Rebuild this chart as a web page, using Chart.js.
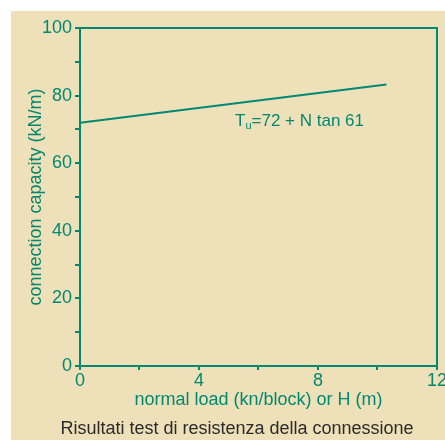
<!DOCTYPE html>
<html>
<head>
<meta charset="utf-8">
<script src="https://cdn.jsdelivr.net/npm/chart.js@4"></script>
<style>
  html, body { margin: 0; padding: 0; background: #ffffff; overflow: hidden; }
  #panel { position: absolute; left: 11px; top: 11px; width: 445px; height: 429px; background: #eee0b9; }
  #box { position: absolute; left: 0; top: 0; width: 436px; height: 429px; }
</style>
</head>
<body>
<div id="panel"><div id="box"><canvas id="grafico"></canvas></div></div>
<script>
// valori
const caricoNormale = [0, 10.3];
const capacita = [72, 83.3];
const ticksX = [0, 4, 8, 12];
const ticksY = [0, 20, 40, 60, 80, 100];

const verde = '#00896f';
const fonte = '"Liberation Sans", Arial, sans-serif';

// cornice del grafico + formula
const extra = {
  id: 'extra',
  afterDraw(chart) {
    const c = chart.ctx;
    const a = chart.chartArea;
    c.save();
    c.strokeStyle = verde;
    c.lineWidth = 2;
    c.strokeRect(a.left, a.top, a.right - a.left, a.bottom - a.top);
    const x = chart.scales.x.getPixelForValue(5.21);
    const y = chart.scales.y.getPixelForValue(71.0);
    c.fillStyle = verde;
    c.textBaseline = 'alphabetic';
    c.font = '17px ' + fonte;
    c.fillText('T', x, y);
    let w = c.measureText('T').width;
    c.font = '11px ' + fonte;
    c.fillText('u', x + w, y + 2.5);
    w += c.measureText('u').width;
    c.font = '17px ' + fonte;
    c.fillText('=72 + N tan 61', x + w, y);
    c.restore();
  }
};

const ctx = document.getElementById('grafico').getContext('2d');
const grafico = new Chart(ctx, {
  type: 'line',
  data: {
    datasets: [{
      data: caricoNormale.map((v, i) => ({ x: v, y: capacita[i] })),
      borderColor: verde,
      borderWidth: 2,
      pointRadius: 0,
      fill: false
    }]
  },
  options: {
    responsive: true,
    maintainAspectRatio: false,
    animation: false,
    layout: { padding: { left: 16, top: 17, right: 0, bottom: 0 } },
    plugins: {
      legend: { display: false },
      tooltip: { enabled: false },
      title: {
        display: true,
        position: 'bottom',
        text: 'Risultati test di resistenza della connessione',
        color: '#2b2b2b',
        font: { family: fonte, size: 18, weight: 'normal' },
        padding: { top: 2, bottom: 0 }
      }
    },
    scales: {
      x: {
        type: 'linear',
        min: 0,
        max: 12,
        afterBuildTicks: s => { s.ticks = [0, 2, 4, 6, 8, 10, 12].map(v => ({ value: v })); },
        ticks: {
          color: verde,
          padding: 0,
          maxRotation: 0,
          font: { family: fonte, size: 18 },
          callback: v => ticksX.includes(v) ? String(v) : ''
        },
        grid: { drawOnChartArea: false, color: verde, tickLength: 4, lineWidth: 2 },
        border: { color: verde, width: 2 },
        title: {
          display: true,
          text: 'normal load (kn/block) or H (m)',
          color: verde,
          font: { family: fonte, size: 18 },
          padding: { top: -2.4, bottom: 5.6 }
        }
      },
      y: {
        min: 0,
        max: 100,
        afterBuildTicks: s => { s.ticks = [0, 10, 20, 30, 40, 50, 60, 70, 80, 90, 100].map(v => ({ value: v })); },
        afterFit: s => { s.width = 53; },
        ticks: {
          color: verde,
          padding: 3,
          font: { family: fonte, size: 18 },
          callback: v => ticksY.includes(v) ? String(v) : ''
        },
        grid: { drawOnChartArea: false, color: verde, tickLength: 5, lineWidth: 2 },
        border: { color: verde, width: 2 },
        title: {
          display: true,
          text: 'connection capacity (kN/m)',
          color: verde,
          font: { family: fonte, size: 18, lineHeight: 1 },
          padding: { top: 0, bottom: 0 }
        }
      }
    }
  },
  plugins: [extra]
});
</script>
</body>
</html>
